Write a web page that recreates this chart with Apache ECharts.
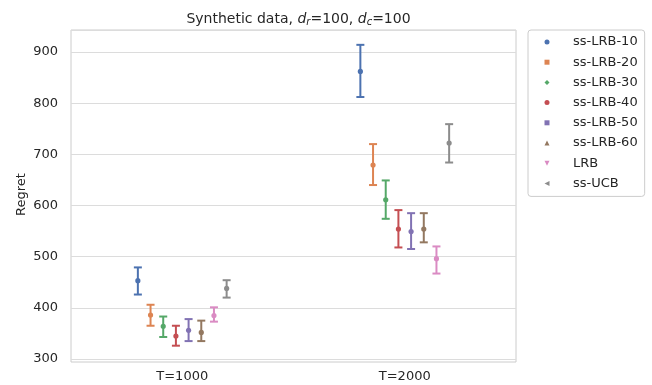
<!DOCTYPE html>
<html>
<head>
<meta charset="utf-8">
<script src="https://cdn.jsdelivr.net/npm/echarts@6/dist/echarts.min.js"></script>
<style>
html,body{margin:0;padding:0;background:#fff;}
#chart{width:652px;height:385px;}
</style>
</head>
<body>
<div id="chart"></div>
<script>
const categories = ['T=1000', 'T=2000'];
const methods = ['ss-LRB-10', 'ss-LRB-20', 'ss-LRB-30', 'ss-LRB-40', 'ss-LRB-50', 'ss-LRB-60', 'LRB', 'ss-UCB'];
const means = [
  [453, 862],
  [386, 679],
  [364, 611],
  [345, 554],
  [356, 549],
  [352, 554],
  [385, 496],
  [438, 722]
];
const lows = [
  [426, 812],
  [365, 640],
  [343, 574],
  [326, 518],
  [335, 515],
  [335, 528],
  [373, 467],
  [420, 684]
];
const highs = [
  [479, 914],
  [406, 720],
  [383, 649],
  [365, 591],
  [378, 585],
  [375, 585],
  [401, 520],
  [454, 759]
];
const yTicks = [300, 400, 500, 600, 700, 800, 900];

const colors = ['#4c72b0', '#dd8452', '#55a868', '#c44e52', '#8172b3', '#937860', '#da8bc3', '#8c8c8c'];
const icons = ['circle', 'rect', 'diamond', 'circle', 'rect', 'triangle',
  'path://M0,0L10,0L5,10Z', 'path://M10,0L10,10L0,5Z'];

const chart = echarts.init(document.getElementById('chart'), null, {renderer: 'canvas'});

const series = methods.map((name, i) => ({
  name: name,
  type: 'custom',
  itemStyle: {color: colors[i]},
  encode: {x: 0, y: [1, 2, 3]},
  data: categories.map((c, j) => [j, means[i][j], lows[i][j], highs[i][j]]),
  renderItem: function (params, api) {
    const xi = api.value(0);
    const band = api.size([1, 0])[0];
    const off = (i - 3.5) * band * 0.057;
    const c = api.coord([xi, api.value(1)]);
    const lo = api.coord([xi, api.value(2)]);
    const hi = api.coord([xi, api.value(3)]);
    const x = c[0] + off;
    const st = {stroke: colors[i], lineWidth: 2};
    return {
      type: 'group',
      children: [
        {type: 'line', shape: {x1: x, y1: lo[1], x2: x, y2: hi[1]}, style: st},
        {type: 'line', shape: {x1: x - 4, y1: lo[1], x2: x + 4, y2: lo[1]}, style: st},
        {type: 'line', shape: {x1: x - 4, y1: hi[1], x2: x + 4, y2: hi[1]}, style: st},
        {type: 'circle', shape: {cx: x, cy: c[1], r: 2.6}, style: {fill: colors[i]}}
      ]
    };
  }
}));

chart.setOption({
  backgroundColor: '#ffffff',
  animation: false,
  title: {
    text: '{n|Synthetic data, }{i|d}{s|r}{n|=100, }{i|d}{s|c}{n|=100}',
    left: 293.5,
    textAlign: 'center',
    top: 6,
    textStyle: {
      fontWeight: 'normal',
      rich: {
        n: {fontFamily: 'DejaVu Sans', fontWeight: 'normal', fontSize: 14, color: '#262626'},
        i: {fontFamily: 'DejaVu Sans', fontWeight: 'normal', fontStyle: 'italic', fontSize: 14, color: '#262626'},
        s: {fontFamily: 'DejaVu Sans', fontWeight: 'normal', fontStyle: 'italic', fontSize: 10, color: '#262626', verticalAlign: 'bottom', padding: [6, 0, 0, 0]}
      }
    }
  },
  grid: {left: 71, right: 136, top: 30, bottom: 26, show: false},
  graphic: [{
    type: 'rect',
    shape: {x: 71, y: 30, width: 445, height: 332},
    style: {fill: 'none', stroke: '#cccccc', lineWidth: 1},
    z: 0
  }],
  legend: {
    orient: 'vertical',
    left: 528,
    top: 30,
    padding: [2, 7, 3, 16.5],
    itemGap: 0.2,
    itemWidth: 5,
    itemHeight: 5,
    borderColor: '#cccccc',
    borderWidth: 1,
    borderRadius: 3,
    textStyle: {fontFamily: 'DejaVu Sans', fontSize: 13, color: '#262626', lineHeight: 20, padding: [0, 0, 0, 18.5]},
    data: methods.map((m, i) => ({name: m, icon: icons[i]}))
  },
  xAxis: {
    type: 'category',
    data: categories,
    axisLine: {show: false},
    axisTick: {show: false},
    axisLabel: {fontFamily: 'DejaVu Sans', fontSize: 13, color: '#262626', margin: 11},
    splitLine: {show: false}
  },
  yAxis: {
    type: 'value',
    min: 300,
    max: 943,
    interval: 100,
    name: 'Regret',
    nameLocation: 'middle',
    nameGap: 43,
    nameMoveOverlap: false,
    nameTextStyle: {fontFamily: 'DejaVu Sans', fontSize: 13, color: '#262626'},
    axisLine: {show: false},
    axisTick: {show: false},
    axisLabel: {
      fontFamily: 'DejaVu Sans', fontSize: 13, color: '#262626', margin: 13,
      showMaxLabel: false,
      formatter: v => (yTicks.indexOf(v) >= 0 ? String(v) : '')
    },
    splitLine: {lineStyle: {color: '#dcdcdc', width: 1}}
  },
  series: series
});
</script>
</body>
</html>
